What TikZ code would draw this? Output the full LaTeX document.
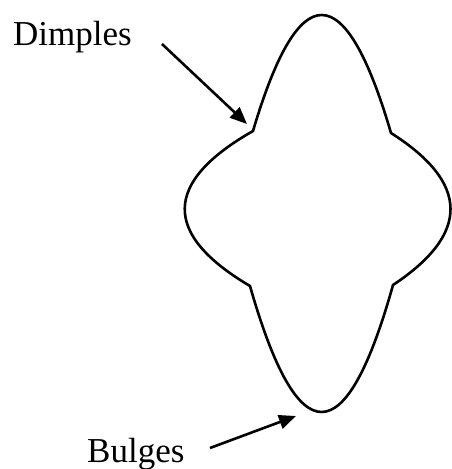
\documentclass[tikz,border=0pt]{standalone}
\usepackage{fontspec}
\setmainfont{Liberation Serif}
\usetikzlibrary{arrows.meta}
\tikzset{
  lbl/.style={anchor=base west, inner sep=0pt, font=\fontsize{35}{40}\selectfont},
  outline/.style={line width=2.6pt, line join=miter},
  pointer/.style={line width=2.6pt, -{Triangle[length=17pt,width=14pt]}}
}
\begin{document}
\begin{tikzpicture}[x=1pt,y=-1pt]
\useasboundingbox (0,0) rectangle (451,469);
% four-lobed outline
\coordinate (tl) at (253,131);
\coordinate (tr) at (391,133);
\coordinate (br) at (393,285);
\coordinate (bl) at (250,286);
\draw[outline] (tl) .. controls (299,-24.3) and (345,-23.7) .. (tr)
  .. controls (469.7,183) and (470.3,233.7) .. (br)
  .. controls (345.7,454) and (298,454.3) .. (bl)
  .. controls (162,234) and (163,182.3) .. cycle;
% labels
\node[lbl] (dimples) at (13,45) {Dimples};
\node[lbl] (bulges) at (87,462) {Bulges};
% arrows
\coordinate (dstart) at (162,44);
\coordinate (dtip) at (247,124);
\coordinate (bstart) at (210,448);
\coordinate (btip) at (296,416);
\draw[pointer] (dstart) -- (dtip);
\draw[pointer] (bstart) -- (btip);
\end{tikzpicture}
\end{document}
